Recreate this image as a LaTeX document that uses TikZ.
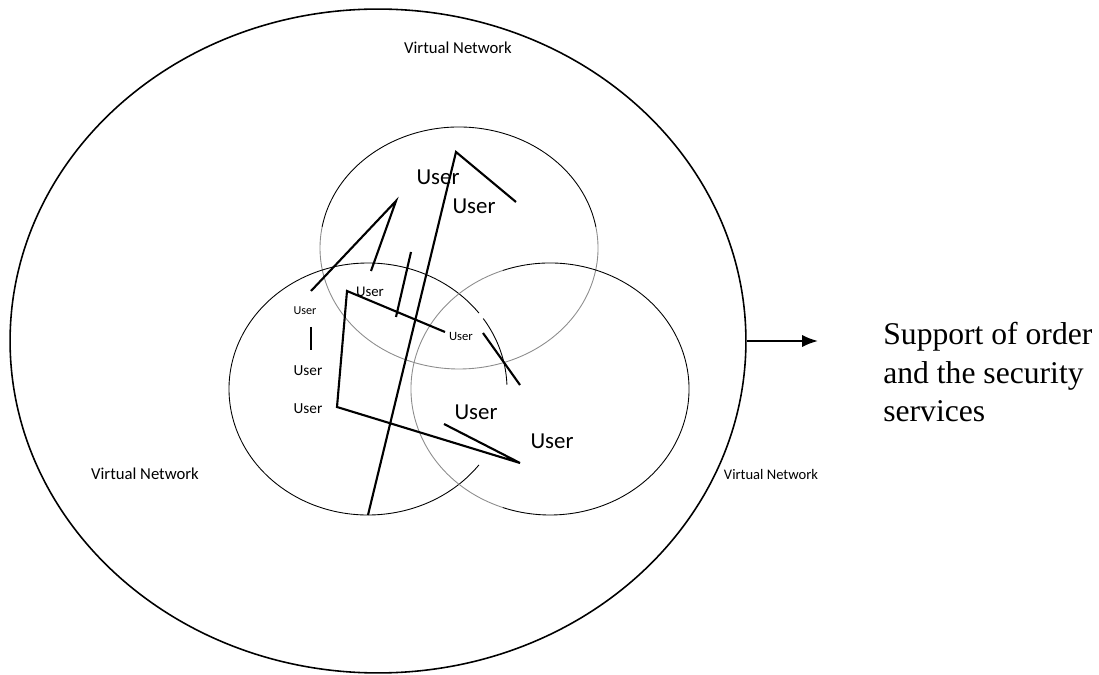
\documentclass[tikz,border=0pt]{standalone}
\usepackage{fontspec}
\setmainfont{Liberation Serif}
\newfontfamily\carlito{Carlito}
\usetikzlibrary{arrows.meta,shapes.geometric}
\tikzset{
  usr/.style={font=\carlito\fontsize{#1}{#1}\selectfont, inner sep=0pt},
  link/.style={line width=1.2pt, line join=miter},
  ring/.style={line width=0.5pt},
  faint/.style={line width=0.5pt, draw=black!45},
}
\begin{document}
\begin{tikzpicture}[x=0.02cm, y=-0.02cm, >={Latex[length=9pt,width=7pt]}]
\useasboundingbox (0,0) rectangle (1099,675);
% outer virtual network
\node[draw, ellipse, line width=0.9pt, minimum width=14.72cm, minimum height=13.28cm, inner sep=0pt] (vnet) at (378,341) {};
\node[usr=9.5] (vnT) at (458,48) {Virtual Network};
\node[usr=9.5] (vnL) at (145,474) {Virtual Network};
\node[usr=8.3] (vnR) at (771,474) {Virtual Network};

% three user groups
\coordinate (cTop) at (459,248);
\coordinate (cLeft) at (368,389);
\coordinate (cRight) at (550,389);
\draw[ring] (cTop) ++(190:139 and 121) arc[start angle=190, end angle=350, x radius=139, y radius=121];
\draw[faint] (cTop) ++(-10:139 and 121) arc[start angle=-10, end angle=190, x radius=139, y radius=121];
\draw[ring] (cLeft) ++(37:139 and 126) arc[start angle=37, end angle=323, x radius=139, y radius=126];
\draw[ring] (cLeft) ++(326:139 and 126) arc[start angle=326, end angle=358, x radius=139, y radius=126];
\draw[ring] (cRight) ++(250:139 and 126) arc[start angle=250, end angle=470, x radius=139, y radius=126];
\draw[faint] (cRight) ++(110:139 and 126) arc[start angle=110, end angle=250, x radius=139, y radius=126];

% users
\node[usr=13] (uA) at (438,177) {User};
\node[usr=13] (uB) at (474,206) {User};
\node[usr=8.4] (uC) at (370,292) {User};
\node[usr=6.9] (uD) at (305,311) {User};
\node[usr=8.7] (uE) at (308,371) {User};
\node[usr=8.7] (uF) at (308,409) {User};
\node[usr=7.2] (uG) at (461,336) {User};
\node[usr=13] (uH) at (476,412) {User};
\node[usr=13] (uI) at (552,441) {User};

% links between users
\coordinate (p1) at (311,291); \coordinate (p2) at (396,201); \coordinate (p3) at (371,271);
\coordinate (p4) at (411,252); \coordinate (p5) at (396,317);
\coordinate (p6) at (516,202); \coordinate (p7) at (456,152); \coordinate (p8) at (368,515);
\coordinate (q1) at (445,332); \coordinate (q2) at (347,291); \coordinate (q3) at (337,407);
\coordinate (q4) at (520,463); \coordinate (q5) at (444,424);
\coordinate (q6) at (311,327); \coordinate (q7) at (311,350);
\coordinate (q8) at (483,333); \coordinate (q9) at (520,385);
\draw[link] (p1)--(p2)--(p3);
\draw[link] (p4)--(p5);
\draw[link] (p6)--(p7)--(p8);
\draw[link] (q1)--(q2)--(q3)--(q4)--(q5);
\draw[link] (q6)--(q7);
\draw[link] (q8)--(q9);

% support
\node[anchor=north west, align=left, inner sep=0pt, font=\fontsize{18}{22}\selectfont] (sup) at (883,322) {Support of order\\and the security\\services};
\coordinate (tip) at (818,341);
\draw[->, line width=1.2pt] (vnet.east)--(tip);
\end{tikzpicture}
\end{document}
